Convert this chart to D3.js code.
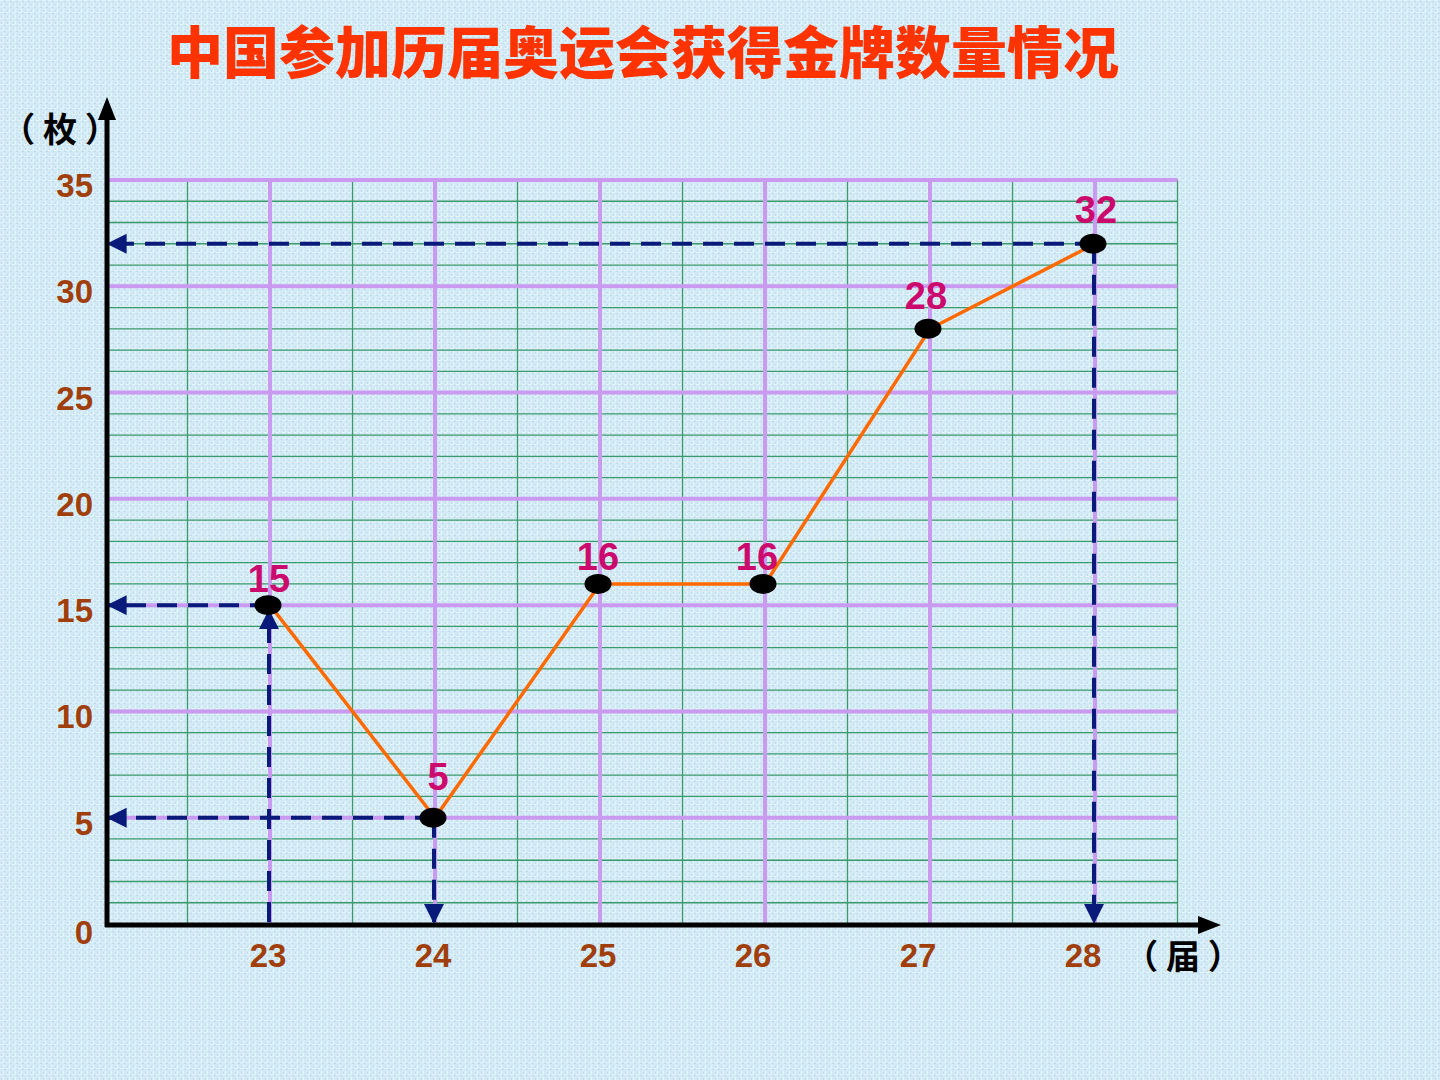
<!DOCTYPE html>
<html><head><meta charset="utf-8">
<script src="https://cdn.jsdelivr.net/npm/d3@7"></script>
<style>html,body{margin:0;padding:0;background:#d4ecf7;}svg{display:block;}</style>
</head><body>
<script>
const sessions = [23, 24, 25, 26, 27, 28];
const golds = [15, 5, 16, 16, 28, 32];
const yTicks = [0, 5, 10, 15, 20, 25, 30, 35];
const guideSessions = [23, 24, 28];
const guideValues = [15, 5, 32];
const title = "中国参加历届奥运会获得金牌数量情况";
const yUnit = "（ 枚 ）";
const xUnit = "（ 届 ）";

// label placement offsets (style only)
const labelDx = [-1, 3, -2, -8, -4, 1];
const labelDy = [-13, -28, -14, -14, -20, -21];

const W = 1440, H = 1080;
const svg = d3.select("body").append("svg").attr("width", W).attr("height", H);

// background texture
const defs = svg.append("defs");
const pat = defs.append("pattern").attr("id","tex").attr("width",6).attr("height",6).attr("patternUnits","userSpaceOnUse");
pat.append("rect").attr("width",6).attr("height",6).attr("fill","#d2eaf5");
pat.append("rect").attr("x",0).attr("y",0).attr("width",3).attr("height",1).attr("fill","#e8f6fc");
pat.append("rect").attr("x",3).attr("y",3).attr("width",1).attr("height",3).attr("fill","#e8f6fc");
pat.append("rect").attr("x",4).attr("y",1).attr("width",2).attr("height",1).attr("fill","#c0ddec");
pat.append("rect").attr("x",1).attr("y",4).attr("width",1).attr("height",2).attr("fill","#c0ddec");
svg.append("rect").attr("width",W).attr("height",H).attr("fill","url(#tex)");

const x = d3.scaleLinear().domain([23, 28]).range([270, 1095]);
const y = d3.scaleLinear().domain([0, 35]).range([924, 180]);
const x0 = x(22.01), x1 = x(28.5);

// green minor grid
const g = svg.append("g");
g.selectAll("line.hm").data(d3.range(0, 36)).join("line")
  .attr("x1", x0).attr("x2", x1).attr("y1", d=>y(d)).attr("y2", d=>y(d))
  .attr("stroke", "#3a9a6a").attr("stroke-width", 1.3);
g.selectAll("line.vm").data(d3.range(22.5, 28.6, 1)).join("line")
  .attr("x1", d=>x(d)).attr("x2", d=>x(d)).attr("y1", y(35)).attr("y2", y(0))
  .attr("stroke", "#3a9a6a").attr("stroke-width", 1.3);
// purple major grid
g.selectAll("line.hM").data(yTicks.filter(d=>d>0)).join("line")
  .attr("x1", x0).attr("x2", x1).attr("y1", d=>y(d)).attr("y2", d=>y(d))
  .attr("stroke", "#c99af0").attr("stroke-width", 4);
g.selectAll("line.vM").data(sessions).join("line")
  .attr("x1", d=>x(d)).attr("x2", d=>x(d)).attr("y1", y(35)-2).attr("y2", y(0))
  .attr("stroke", "#c99af0").attr("stroke-width", 4);

// dashed guides
const navy = "#0a1a7a";
defs.append("marker").attr("id","arr").attr("viewBox","0 0 10 10").attr("refX",9).attr("refY",5)
  .attr("markerWidth",5).attr("markerHeight",5).attr("orient","auto-start-reverse")
  .append("path").attr("d","M0,0L10,5L0,10z").attr("fill",navy);
const gd = svg.append("g");
guideValues.forEach((v,i)=>{
  gd.append("line").attr("x1", x(guideSessions[i])).attr("x2", x(22.01)+2)
    .attr("y1", y(v)).attr("y2", y(v))
    .attr("stroke", navy).attr("stroke-width", 4).attr("stroke-dasharray","20,11")
    .attr("marker-end","url(#arr)");
});
gd.append("line").attr("x1", x(23)-1).attr("x2", x(23)-1).attr("y1", y(0)-2).attr("y2", y(15)+6)
  .attr("stroke", navy).attr("stroke-width", 4).attr("stroke-dasharray","20,11").attr("marker-end","url(#arr)");
[24, 28].forEach((s)=>{
  const v = golds[sessions.indexOf(s)];
  gd.append("line").attr("x1", x(s)-1).attr("x2", x(s)-1).attr("y1", y(v)).attr("y2", y(0)-2)
    .attr("stroke", navy).attr("stroke-width", 4).attr("stroke-dasharray","20,11").attr("marker-end","url(#arr)");
});

// axes
const axisG = svg.append("g");
axisG.append("line").attr("x1", 107).attr("x2", 107).attr("y1", 927).attr("y2", 115)
  .attr("stroke","#000").attr("stroke-width",5);
axisG.append("path").attr("d", `M107,97 L98,120 L116,120 Z`).attr("fill","#000");
axisG.append("line").attr("x1", 105).attr("x2", 1205).attr("y1", 925).attr("y2", 925)
  .attr("stroke","#000").attr("stroke-width",5);
axisG.append("path").attr("d", `M1221,925 L1198,916 L1198,934 Z`).attr("fill","#000");

// tick labels
const numFont = "'Liberation Sans', Arial, sans-serif";
svg.append("g").selectAll("text").data(yTicks).join("text")
  .attr("x", 93).attr("y", d=>y(d)+ (d===0?20:17))
  .attr("text-anchor","end").attr("font-family", numFont).attr("font-weight","bold")
  .attr("font-size", 33).attr("fill","#a03f0c").text(d=>d);
svg.append("g").selectAll("text").data(sessions).join("text")
  .attr("x", d=>x(d) - (d>=26?12:2)).attr("y", 967)
  .attr("text-anchor","middle").attr("font-family", numFont).attr("font-weight","bold")
  .attr("font-size", 33).attr("fill","#a03f0c").text(d=>d);

// unit labels
const cjk = "'Noto Sans CJK SC', sans-serif";
svg.append("text").attr("x", 60).attr("y", 142).attr("text-anchor","middle")
  .attr("font-family", cjk).attr("font-weight","bold").attr("font-size", 34).attr("fill","#000").text(yUnit);
svg.append("text").attr("x", 1183).attr("y", 969).attr("text-anchor","middle")
  .attr("font-family", cjk).attr("font-weight","bold").attr("font-size", 34).attr("fill","#000").text(xUnit);

// line
const data = sessions.map((s,i)=>({s, v:golds[i], i}));
svg.append("path").datum(data)
  .attr("d", d3.line().x(d=>x(d.s)).y(d=>y(d.v)))
  .attr("fill","none").attr("stroke","#ff6a00").attr("stroke-width",3.5);

// markers
svg.append("g").selectAll("ellipse").data(data).join("ellipse")
  .attr("cx", d=>x(d.s)-2).attr("cy", d=>y(d.v)).attr("rx", 13.5).attr("ry", 10).attr("fill","#000");

// value labels
svg.append("g").selectAll("text").data(data).join("text")
  .attr("x", d=>x(d.s) + labelDx[d.i]).attr("y", d=>y(d.v) + labelDy[d.i])
  .attr("text-anchor","middle").attr("font-family", numFont).attr("font-weight","bold")
  .attr("font-size", 38).attr("fill","#cc0a6e").text(d=>d.v);

// title
svg.append("text").attr("x", 643).attr("y", 73).attr("text-anchor","middle")
  .attr("font-family", cjk).attr("font-weight","900").attr("font-size", 56)
  .attr("fill","#ff3300").text(title);
</script>
</body></html>
